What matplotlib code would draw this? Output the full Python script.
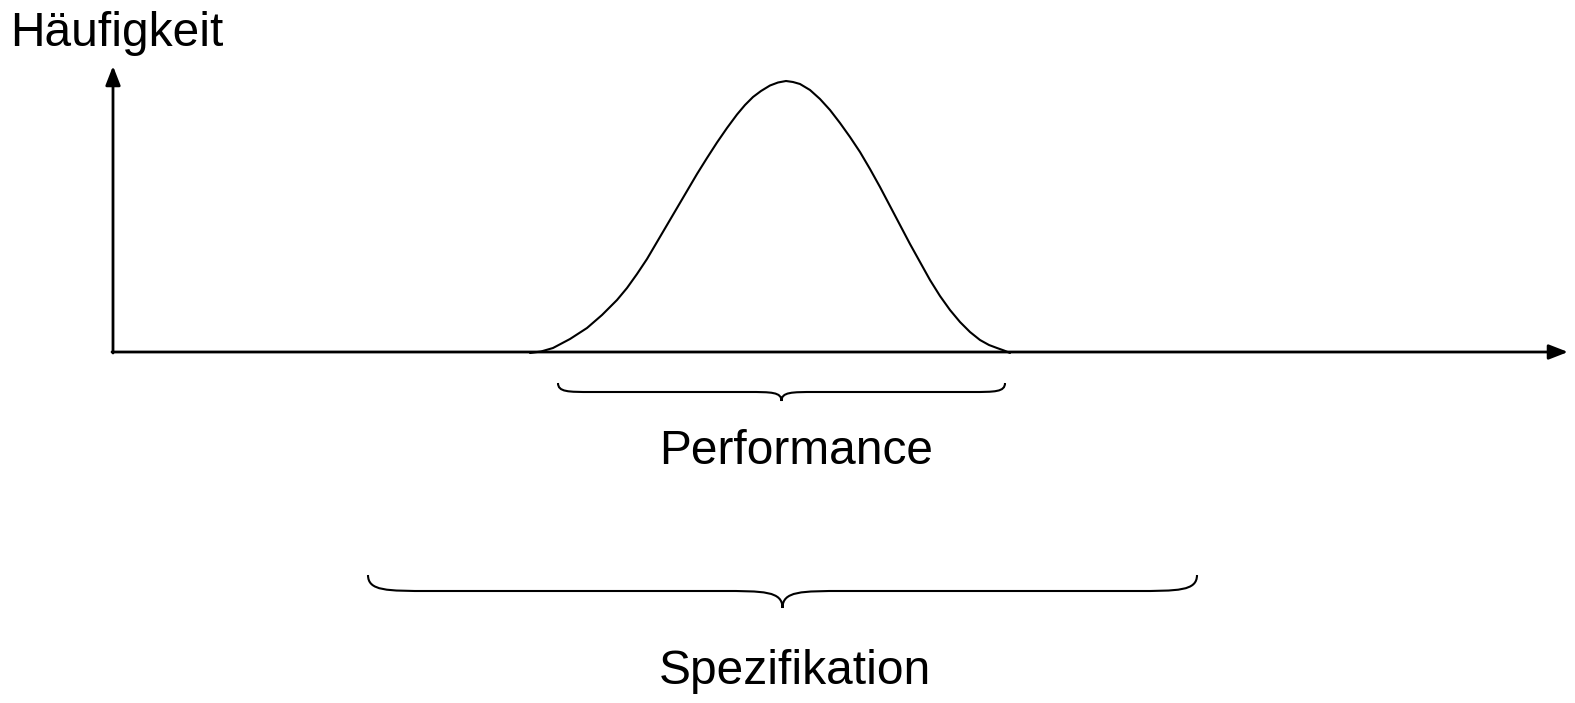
import matplotlib
matplotlib.use('Agg')

import matplotlib.pyplot as plt
from matplotlib.path import Path
from matplotlib.patches import PathPatch

# axis frame (pixel coords of the drawing)
origin = (113, 352)
x_end = 1568
y_end = 66

# bell curve
curve_x = [530, 541, 553, 570, 587, 602, 617, 627, 637, 647, 657, 667, 677, 687, 697,
           707, 717, 727, 737, 745, 753, 761, 770, 778, 786,
           793, 800, 810, 820, 830, 840, 850, 860, 870, 880, 890, 900, 910, 920,
           930, 940, 950, 960, 970, 980, 989, 997, 1004, 1010]
curve_y = [353, 351.5, 348, 339, 328, 315, 300, 288, 274, 259, 242, 225, 208, 191, 174,
           158, 142.5, 128, 114.5, 105, 97, 91, 85.5, 82.5, 81,
           82, 84, 90, 99, 110, 123, 137, 152, 169, 187, 206, 225, 244, 262,
           280, 296, 310, 322, 332, 340, 345, 348, 350.5, 353]

# braces: (left, right, top, flat, tip)
braces = [(558, 1005, 383, 392, 401),
          (368, 1197, 575, 591, 608)]
brace_labels = ['Performance', 'Spezifikation']
label_pos = [(796, 451), (795, 672)]
y_label = 'Häufigkeit'

plt.rcParams['font.family'] = ['Liberation Sans', 'DejaVu Sans']

fig = plt.figure(figsize=(15.75, 7.03), dpi=100)
ax = fig.add_axes([0, 0, 1, 1])
ax.set_xlim(0, 1575)
ax.set_ylim(703, 0)
ax.axis('off')

arrow = dict(arrowstyle='-|>,head_length=0.77,head_width=0.3', lw=2, color='black',
             shrinkA=0, shrinkB=0, mutation_scale=15)
ax.annotate('', xy=(x_end, origin[1]), xytext=(origin[0] - 1, origin[1]), arrowprops=arrow)
ax.annotate('', xy=(origin[0], y_end), xytext=(origin[0], origin[1] + 1), arrowprops=arrow)

ax.plot(curve_x, curve_y, color='black', lw=1.5, solid_capstyle='round',
        solid_joinstyle='round')


def draw_brace(ax, x0, x1, yt, ym, ytip, w):
    xc = (x0 + x1) / 2.0
    verts = [(x0, yt), (x0, ym), (x0 + w * 0.3, ym), (x0 + w, ym),
             (xc - w, ym),
             (xc - w * 0.3, ym), (xc, ym), (xc, ytip),
             (xc, ym), (xc + w * 0.3, ym), (xc + w, ym),
             (x1 - w, ym),
             (x1 - w * 0.3, ym), (x1, ym), (x1, yt)]
    codes = [Path.MOVETO, Path.CURVE4, Path.CURVE4, Path.CURVE4,
             Path.LINETO,
             Path.CURVE4, Path.CURVE4, Path.CURVE4,
             Path.CURVE4, Path.CURVE4, Path.CURVE4,
             Path.LINETO,
             Path.CURVE4, Path.CURVE4, Path.CURVE4]
    ax.add_patch(PathPatch(Path(verts, codes), fill=False, lw=1.5, color='black'))


for (x0, x1, yt, ym, ytip) in braces:
    draw_brace(ax, x0, x1, yt, ym, ytip, 0.075 * (x1 - x0))

for txt, (tx, ty) in zip(brace_labels, label_pos):
    ax.text(tx, ty, txt, fontsize=34.5, ha='center', va='center')

ax.text(10, 33, y_label, fontsize=34.5, ha='left', va='center')

fig.savefig('out.png', dpi=100, facecolor='white')
